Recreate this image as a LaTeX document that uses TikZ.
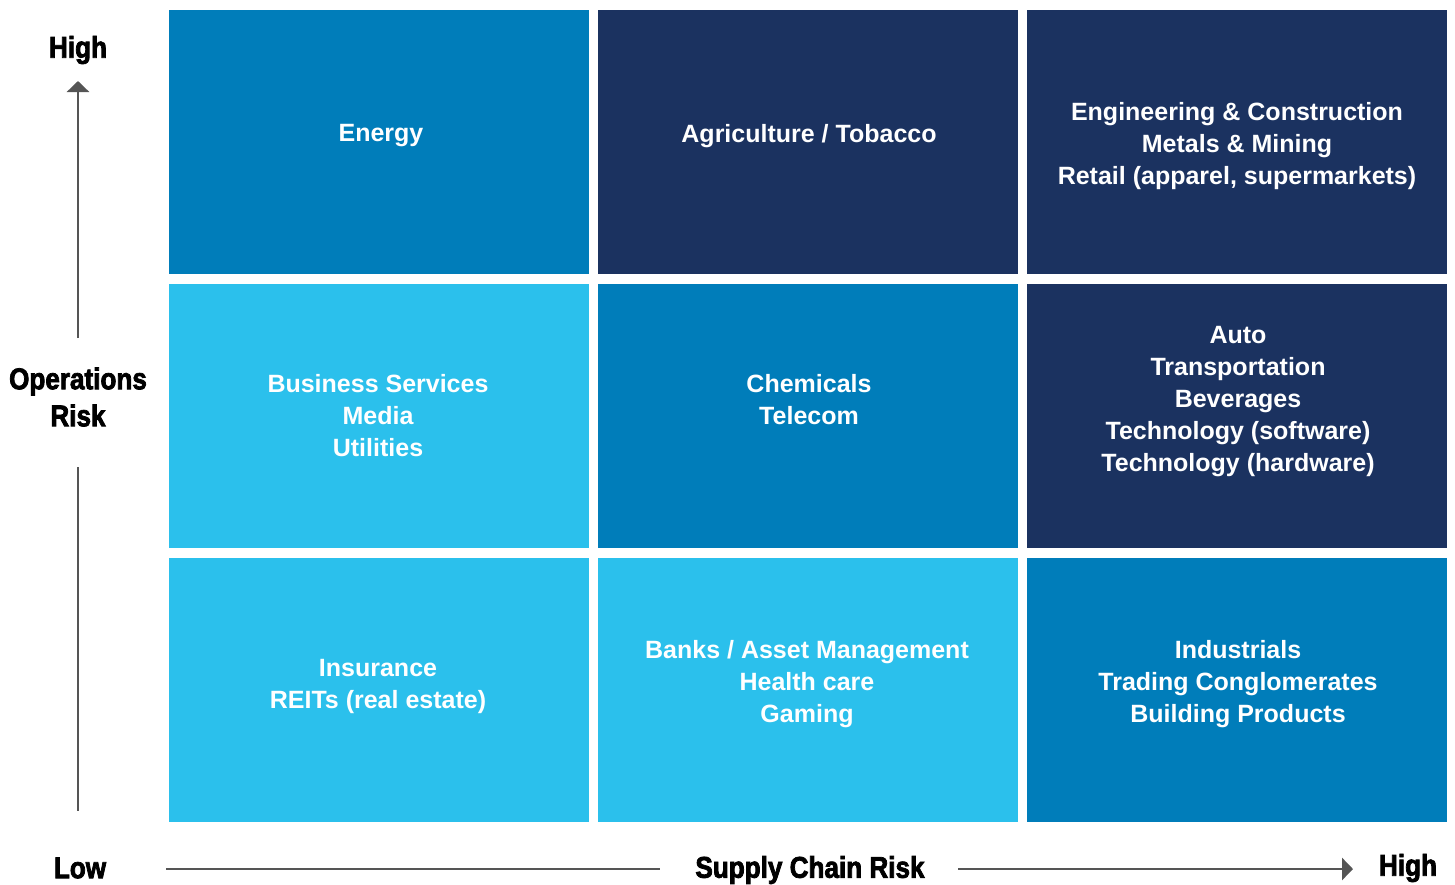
\documentclass[tikz,border=0pt]{standalone}
\usepackage{fontspec}
\setmainfont{Liberation Sans}
\newfontfamily\axisfont[FakeStretch=0.87,FakeBold=2.5]{Liberation Sans Bold}
\usetikzlibrary{arrows.meta}
\definecolor{midblue}{RGB}{0,125,186}
\definecolor{navy}{RGB}{27,50,96}
\definecolor{lightblue}{RGB}{43,192,236}
\definecolor{axisgray}{RGB}{85,85,85}
\tikzset{
  cell/.style={fill=#1, draw=none, minimum width=420pt, minimum height=264pt, inner sep=0pt},
  celltext/.style={text=white, align=center, font=\fontsize{25}{32}\selectfont\bfseries, inner sep=0pt},
  axislabel/.style={font=\axisfont\fontsize{30}{37}\selectfont, text=black, align=center, inner sep=0pt},
  axisline/.style={draw=axisgray, line width=2.8pt},
}
\begin{document}
\begin{tikzpicture}[x=1pt,y=-1pt]
\useasboundingbox (0,0) rectangle (1455,884);
% cells
\node[cell=midblue]   (c11) at (379,142) {};
\node[cell=navy]      (c12) at (808,142) {};
\node[cell=navy]      (c13) at (1237,142) {};
\node[cell=lightblue] (c21) at (379,415.5) {};
\node[cell=midblue]   (c22) at (808,415.5) {};
\node[cell=navy]      (c23) at (1237,415.5) {};
\node[cell=lightblue] (c31) at (379,689.5) {};
\node[cell=lightblue] (c32) at (808,689.5) {};
\node[cell=midblue]   (c33) at (1237,689.5) {};
% texts
\node[celltext] (t11) at (381,136) {Energy};
\node[celltext] (t12) at (809,136) {Agriculture / Tobacco};
\node[celltext] (t13) at (1237,146) {Engineering \& Construction\\Metals \& Mining\\Retail (apparel, supermarkets)};
\node[celltext] (t21) at (378,416) {Business Services\\Media\\Utilities};
\node[celltext] (t22) at (809,400) {Chemicals\\Telecom};
\node[celltext] (t23) at (1238,402) {Auto\\Transportation\\Beverages\\Technology (software)\\Technology (hardware)};
\node[celltext] (t31) at (378,686) {Insurance\\REITs (real estate)};
\node[celltext] (t32) at (807,684) {Banks / Asset Management\\Health care\\Gaming};
\node[celltext] (t33) at (1238,684) {Industrials\\Trading Conglomerates\\Building Products};
% axis labels
\node[axislabel] (yhigh) at (78,50) {High};
\node[axislabel] (yrisk) at (78,397) {Operations\\Risk};
\node[axislabel] (xlow) at (80,868) {Low};
\node[axislabel] (xrisk) at (810,870) {Supply Chain Risk};
\node[axislabel] (xhigh) at (1408,868) {High};
% axis lines
\coordinate (ya) at (78,338);
\coordinate (yb) at (78,81);
\coordinate (yc) at (78,467);
\coordinate (yd) at (78,811);
\coordinate (xa) at (166,869);
\coordinate (xb) at (660,869);
\coordinate (xc) at (958,869);
\coordinate (xd) at (1353,869);
\draw[axisline, -{Triangle[width=22pt,length=11pt]}] (ya) -- (yb);
\draw[axisline] (yc) -- (yd);
\draw[axisline] (xa) -- (xb);
\draw[axisline, -{Triangle[width=22pt,length=11pt]}] (xc) -- (xd);
\end{tikzpicture}
\end{document}
